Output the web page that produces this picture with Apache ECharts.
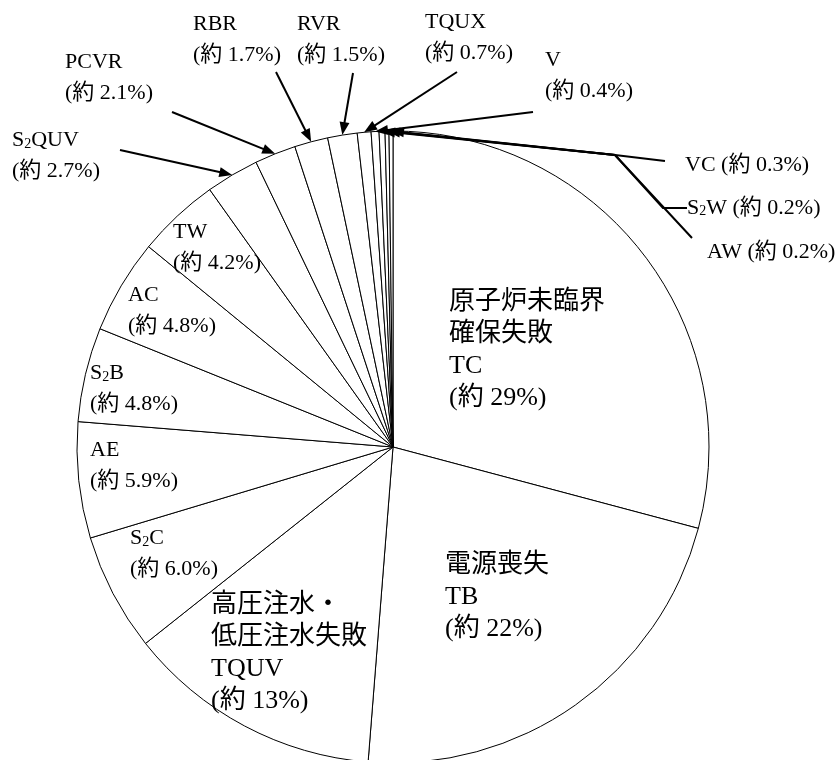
<!DOCTYPE html>
<html><head><meta charset="utf-8">
<script src="https://cdn.jsdelivr.net/npm/echarts@6/dist/echarts.min.js"></script>
<style>html,body{margin:0;padding:0;background:#fff;}#c{width:839px;height:760px;}</style>
</head><body><div id="c"></div>
<script>
// ---- data ----
const names = ['TC','TB','TQUV','S2C','AE','S2B','AC','TW','S2QUV','PCVR','RBR','RVR','TQUX','V','VC','S2W','AW'];
const descriptions = ['原子炉未臨界\n確保失敗','電源喪失','高圧注水・\n低圧注水失敗','','','','','','','','','','','','','',''];
const values = [29,22,13,6.0,5.9,4.8,4.8,4.2,2.7,2.1,1.7,1.5,0.7,0.4,0.3,0.2,0.2];
const pctText = ['29','22','13','6.0','5.9','4.8','4.8','4.2','2.7','2.1','1.7','1.5','0.7','0.4','0.3','0.2','0.2'];
const labelKind = ['big','big','big','mid','mid','mid','mid','mid','out','out','out','out','out','out','side','side','side'];

// ---- layout (positions / styles) ----
const CX = 393, CY = 447, R = 316;
const labelPos = [[449,286],[445,549],[211,589],[130,523],[90,435],[90,358],[128,280],[173,217],
  [12,125],[65,47],[193,9],[297,9],[425,7],[545,45],[685,150],[687,193],[707,237]];
const kindStyle = {big:{fontSize:26,lineHeight:32}, mid:{fontSize:22,lineHeight:31}, out:{fontSize:22,lineHeight:31}, side:{fontSize:22,lineHeight:30}};
// arrow tails (pointer paths, from label toward the slice)
const arrowPaths = {
  8:[[120,150]], 9:[[172,112]], 10:[[276,72]], 11:[[353,73]], 12:[[457,72]], 13:[[533,112]],
  14:[[665,161],[615,155]], 15:[[687,208],[663,208],[615,155]], 16:[[692,238],[615,155]]
};
const FONT = "'Liberation Serif','Noto Sans CJK JP',serif";

const chart = echarts.init(document.getElementById('c'), null, {renderer:'canvas'});

function richName(n){ return n.replace(/^S2/, 'S{s|2}'); }

const data = names.map((n,i)=>({
  name:n, value:values[i],
  label:{fontSize:kindStyle[labelKind[i]].fontSize, lineHeight:kindStyle[labelKind[i]].lineHeight}
}));

chart.setOption({
  animation:false,
  backgroundColor:'#fff',
  series:[{
    type:'pie',
    center:[CX,CY], radius:R,
    startAngle:90, clockwise:true,
    avoidLabelOverlap:false,
    silent:true,
    itemStyle:{color:'#fff', borderColor:'#000', borderWidth:1},
    emphasis:{disabled:true},
    labelLine:{show:false},
    label:{
      show:true, position:'inside', color:'#000', fontFamily:FONT,
      textBorderWidth:0,
      formatter:(p)=>{
        const i=p.dataIndex, k=labelKind[i];
        const nm = richName(names[i]);
        const pc = '(約 ' + pctText[i] + '%)';
        if(k==='big') return descriptions[i] + '\n' + nm + '\n' + pc;
        if(k==='side') return nm + ' ' + pc;
        return nm + '\n' + pc;
      },
      rich:{ s:{fontSize:14, fontFamily:FONT, color:'#000', padding:[7,0,0,0], lineHeight:16} }
    },
    labelLayout:(params)=>{
      const p = labelPos[params.dataIndex];
      return {x:p[0], y:p[1], align:'left', verticalAlign:'top'};
    },
    data:data
  }]
});

// ---- arrows: tips at slice mid-angle on the rim, taken from the pie layout ----
const sData = chart.getModel().getSeriesByIndex(0).getData();
const graphics = [];
Object.keys(arrowPaths).forEach(key=>{
  const i = +key;
  const lay = sData.getItemLayout(i);
  const mid = (lay.startAngle + lay.endAngle)/2;
  const tip = [lay.cx + lay.r*Math.cos(mid), lay.cy + lay.r*Math.sin(mid)];
  const pts = arrowPaths[i].concat([tip]);
  const prev = pts[pts.length-2];
  const dx = tip[0]-prev[0], dy = tip[1]-prev[1], L = Math.hypot(dx,dy);
  const ux = dx/L, uy = dy/L;
  const hl = 13, hw = 5;
  const base = [tip[0]-ux*hl, tip[1]-uy*hl];
  const linePts = pts.slice(0,-1).concat([[base[0]+ux*2, base[1]+uy*2]]);
  graphics.push({type:'polyline', silent:true, shape:{points:linePts}, style:{stroke:'#000', lineWidth:2, fill:null}, z:100});
  graphics.push({type:'polygon', silent:true, shape:{points:[tip,[base[0]-uy*hw, base[1]+ux*hw],[base[0]+uy*hw, base[1]-ux*hw]]}, style:{fill:'#000'}, z:100});
});
chart.setOption({graphic:graphics});
</script>
</body></html>
